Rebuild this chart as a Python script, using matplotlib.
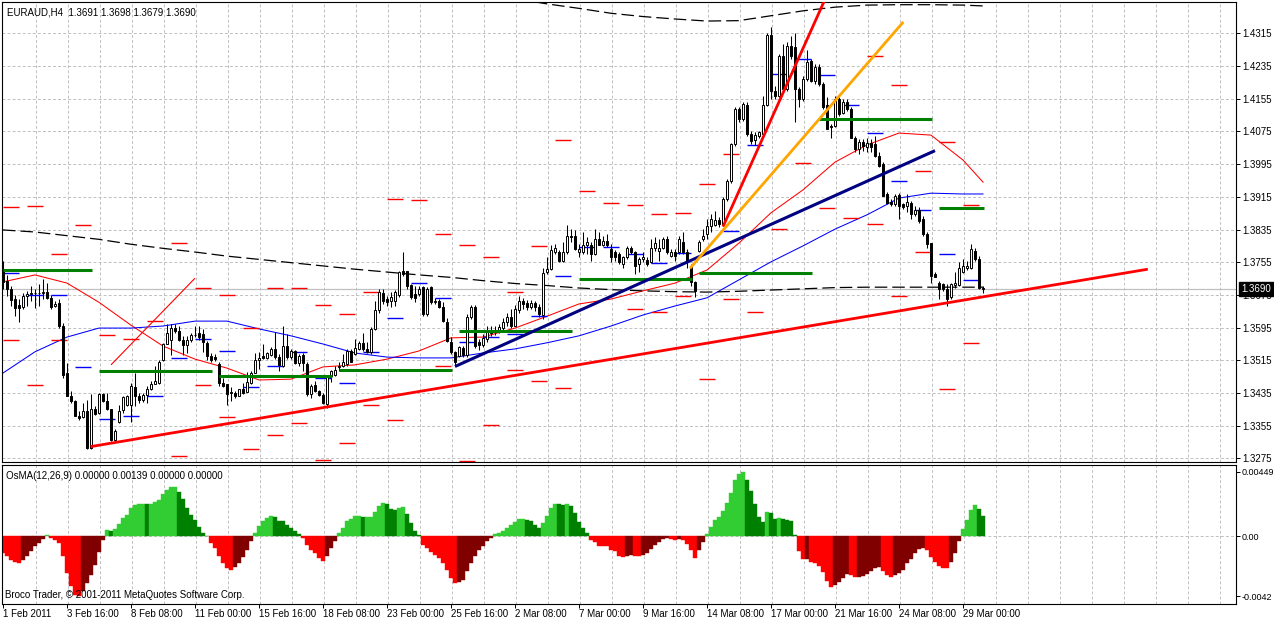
import numpy as np
import matplotlib
matplotlib.use("Agg")
import matplotlib.pyplot as plt
from matplotlib.transforms import blended_transform_factory

plt.rcParams['font.family'] = ['Liberation Sans', 'DejaVu Sans']

symbol = "EURAUD,H4"

# H4 bars, 1 Feb 2011 00:00 .. 29 Mar 2011 20:00 (6 bars a day, no weekend bars)
opens = [
    1.3733, 1.3709, 1.3690, 1.3664, 1.3651, 1.3645, 1.3672, 1.3678, 1.3679, 1.3680,
    1.3680, 1.3682, 1.3668, 1.3649, 1.3656, 1.3599, 1.3483, 1.3429, 1.3415, 1.3380,
    1.3377, 1.3392, 1.3301, 1.3396, 1.3387, 1.3432, 1.3415, 1.3395, 1.3321, 1.3364,
    1.3393, 1.3405, 1.3406, 1.3449, 1.3427, 1.3419, 1.3431, 1.3444, 1.3458, 1.3460,
    1.3515, 1.3556, 1.3566, 1.3593, 1.3588, 1.3565, 1.3552, 1.3564, 1.3576, 1.3581,
    1.3580, 1.3558, 1.3526, 1.3522, 1.3506, 1.3459, 1.3457, 1.3435, 1.3435, 1.3428,
    1.3445, 1.3438, 1.3459, 1.3485, 1.3517, 1.3525, 1.3520, 1.3529, 1.3544, 1.3524,
    1.3502, 1.3551, 1.3522, 1.3539, 1.3508, 1.3528, 1.3505, 1.3433, 1.3455, 1.3439,
    1.3431, 1.3408, 1.3476, 1.3479, 1.3498, 1.3502, 1.3506, 1.3539, 1.3530, 1.3543,
    1.3557, 1.3543, 1.3535, 1.3592, 1.3639, 1.3680, 1.3665, 1.3659, 1.3661, 1.3675,
    1.3733, 1.3733, 1.3699, 1.3677, 1.3677, 1.3694, 1.3628, 1.3694, 1.3657, 1.3661,
    1.3645, 1.3610, 1.3559, 1.3535, 1.3526, 1.3545, 1.3528, 1.3620, 1.3645, 1.3560,
    1.3553, 1.3568, 1.3583, 1.3590, 1.3588, 1.3595, 1.3608, 1.3620, 1.3600, 1.3638,
    1.3660, 1.3655, 1.3645, 1.3655, 1.3645, 1.3625, 1.3730, 1.3739, 1.3780, 1.3780,
    1.3757, 1.3780, 1.3820, 1.3820, 1.3780, 1.3780, 1.3796, 1.3796, 1.3775, 1.3812,
    1.3798, 1.3808, 1.3787, 1.3779, 1.3775, 1.3751, 1.3767, 1.3791, 1.3779, 1.3750,
    1.3764, 1.3761, 1.3755, 1.3789, 1.3783, 1.3789, 1.3812, 1.3771, 1.3781, 1.3779,
    1.3805, 1.3779, 1.3747, 1.3706, 1.3783, 1.3812, 1.3824, 1.3844, 1.3846, 1.3858,
    1.3848, 1.3910, 1.3954, 1.4044, 1.4130, 1.4105, 1.4140, 1.4069, 1.4055, 1.4064,
    1.4069, 1.4140, 1.4311, 1.4175, 1.4162, 1.4260, 1.4179, 1.4285, 1.4281, 1.4179,
    1.4154, 1.4203, 1.4248, 1.4199, 1.4232, 1.4191, 1.4139, 1.4089, 1.4089, 1.4154,
    1.4121, 1.4146, 1.4130, 1.4060, 1.4032, 1.4050, 1.4036, 1.4047, 1.4044, 1.4016,
    1.3995, 1.3922, 1.3903, 1.3897, 1.3920, 1.3897, 1.3893, 1.3901, 1.3873, 1.3883,
    1.3862, 1.3824, 1.3802, 1.3726, 1.3705, 1.3701, 1.3689, 1.3671, 1.3699, 1.3699,
    1.3730, 1.3740, 1.3740, 1.3783, 1.3763, 1.3691]
highs = [
    1.3758, 1.3725, 1.3697, 1.3676, 1.3664, 1.3680, 1.3684, 1.3697, 1.3689, 1.3701,
    1.3713, 1.3705, 1.3676, 1.3660, 1.3666, 1.3607, 1.3509, 1.3440, 1.3419, 1.3391,
    1.3411, 1.3419, 1.3432, 1.3403, 1.3436, 1.3436, 1.3436, 1.3395, 1.3346, 1.3406,
    1.3427, 1.3431, 1.3460, 1.3485, 1.3435, 1.3435, 1.3452, 1.3464, 1.3501, 1.3517,
    1.3558, 1.3603, 1.3605, 1.3603, 1.3599, 1.3574, 1.3574, 1.3582, 1.3599, 1.3599,
    1.3591, 1.3562, 1.3534, 1.3530, 1.3510, 1.3473, 1.3457, 1.3449, 1.3441, 1.3446,
    1.3459, 1.3487, 1.3490, 1.3533, 1.3535, 1.3554, 1.3535, 1.3547, 1.3584, 1.3530,
    1.3598, 1.3579, 1.3543, 1.3541, 1.3530, 1.3534, 1.3510, 1.3457, 1.3465, 1.3442,
    1.3435, 1.3477, 1.3492, 1.3502, 1.3510, 1.3530, 1.3543, 1.3543, 1.3567, 1.3563,
    1.3581, 1.3559, 1.3596, 1.3661, 1.3690, 1.3690, 1.3672, 1.3681, 1.3686, 1.3734,
    1.3781, 1.3734, 1.3702, 1.3698, 1.3698, 1.3698, 1.3695, 1.3698, 1.3667, 1.3665,
    1.3657, 1.3618, 1.3571, 1.3539, 1.3551, 1.3551, 1.3628, 1.3650, 1.3650, 1.3568,
    1.3580, 1.3600, 1.3600, 1.3600, 1.3605, 1.3618, 1.3630, 1.3640, 1.3650, 1.3672,
    1.3668, 1.3662, 1.3662, 1.3660, 1.3652, 1.3740, 1.3767, 1.3796, 1.3800, 1.3784,
    1.3804, 1.3846, 1.3837, 1.3833, 1.3800, 1.3829, 1.3816, 1.3804, 1.3837, 1.3829,
    1.3820, 1.3824, 1.3799, 1.3785, 1.3779, 1.3771, 1.3795, 1.3795, 1.3783, 1.3767,
    1.3779, 1.3767, 1.3812, 1.3816, 1.3812, 1.3816, 1.3820, 1.3787, 1.3787, 1.3820,
    1.3828, 1.3787, 1.3751, 1.3710, 1.3810, 1.3836, 1.3860, 1.3873, 1.3881, 1.3865,
    1.3914, 1.3958, 1.4046, 1.4134, 1.4134, 1.4146, 1.4146, 1.4077, 1.4073, 1.4077,
    1.4162, 1.4316, 1.4330, 1.4187, 1.4264, 1.4289, 1.4293, 1.4309, 1.4316, 1.4183,
    1.4211, 1.4275, 1.4252, 1.4240, 1.4240, 1.4195, 1.4158, 1.4093, 1.4162, 1.4158,
    1.4154, 1.4154, 1.4134, 1.4065, 1.4056, 1.4056, 1.4060, 1.4056, 1.4065, 1.4024,
    1.3999, 1.3926, 1.3910, 1.3922, 1.3924, 1.3901, 1.3922, 1.3905, 1.3893, 1.3889,
    1.3869, 1.3828, 1.3803, 1.3730, 1.3710, 1.3705, 1.3701, 1.3705, 1.3730, 1.3755,
    1.3763, 1.3759, 1.3799, 1.3791, 1.3771, 1.3698]
lows = [
    1.3689, 1.3672, 1.3648, 1.3623, 1.3609, 1.3640, 1.3648, 1.3660, 1.3644, 1.3648,
    1.3666, 1.3664, 1.3640, 1.3646, 1.3595, 1.3471, 1.3427, 1.3411, 1.3378, 1.3370,
    1.3374, 1.3297, 1.3298, 1.3382, 1.3385, 1.3413, 1.3393, 1.3317, 1.3317, 1.3362,
    1.3387, 1.3403, 1.3364, 1.3403, 1.3411, 1.3414, 1.3411, 1.3442, 1.3456, 1.3458,
    1.3513, 1.3554, 1.3529, 1.3582, 1.3562, 1.3529, 1.3532, 1.3561, 1.3573, 1.3566,
    1.3535, 1.3517, 1.3510, 1.3514, 1.3453, 1.3449, 1.3406, 1.3416, 1.3424, 1.3427,
    1.3433, 1.3437, 1.3457, 1.3484, 1.3494, 1.3518, 1.3518, 1.3525, 1.3518, 1.3490,
    1.3498, 1.3518, 1.3518, 1.3506, 1.3502, 1.3490, 1.3429, 1.3422, 1.3437, 1.3428,
    1.3408, 1.3398, 1.3461, 1.3477, 1.3490, 1.3498, 1.3502, 1.3510, 1.3528, 1.3541,
    1.3539, 1.3533, 1.3530, 1.3590, 1.3632, 1.3653, 1.3649, 1.3645, 1.3649, 1.3669,
    1.3722, 1.3690, 1.3665, 1.3657, 1.3672, 1.3624, 1.3624, 1.3653, 1.3653, 1.3642,
    1.3610, 1.3559, 1.3531, 1.3500, 1.3522, 1.3522, 1.3524, 1.3615, 1.3545, 1.3540,
    1.3548, 1.3560, 1.3575, 1.3578, 1.3582, 1.3590, 1.3600, 1.3595, 1.3598, 1.3632,
    1.3640, 1.3638, 1.3640, 1.3635, 1.3620, 1.3615, 1.3727, 1.3735, 1.3775, 1.3755,
    1.3755, 1.3775, 1.3804, 1.3786, 1.3767, 1.3775, 1.3775, 1.3757, 1.3773, 1.3796,
    1.3794, 1.3792, 1.3755, 1.3759, 1.3751, 1.3742, 1.3763, 1.3775, 1.3726, 1.3730,
    1.3755, 1.3746, 1.3753, 1.3783, 1.3759, 1.3787, 1.3775, 1.3767, 1.3759, 1.3775,
    1.3775, 1.3742, 1.3697, 1.3669, 1.3779, 1.3808, 1.3812, 1.3828, 1.3844, 1.3840,
    1.3846, 1.3905, 1.3950, 1.4040, 1.4098, 1.4101, 1.4064, 1.4044, 1.4042, 1.4060,
    1.4066, 1.4136, 1.4154, 1.4154, 1.4158, 1.4175, 1.4175, 1.4252, 1.4097, 1.4134,
    1.4150, 1.4199, 1.4195, 1.4190, 1.4185, 1.4131, 1.4081, 1.4060, 1.4085, 1.4113,
    1.4117, 1.4126, 1.4060, 1.4024, 1.4020, 1.4028, 1.4024, 1.4024, 1.4012, 1.3987,
    1.3916, 1.3897, 1.3893, 1.3893, 1.3860, 1.3885, 1.3877, 1.3860, 1.3869, 1.3852,
    1.3820, 1.3791, 1.3705, 1.3718, 1.3665, 1.3685, 1.3648, 1.3666, 1.3693, 1.3697,
    1.3728, 1.3736, 1.3738, 1.3759, 1.3689, 1.3679]
closes = [
    1.3706, 1.3689, 1.3662, 1.3644, 1.3644, 1.3672, 1.3678, 1.3679, 1.3680, 1.3680,
    1.3683, 1.3668, 1.3646, 1.3654, 1.3599, 1.3480, 1.3429, 1.3415, 1.3378, 1.3374,
    1.3392, 1.3301, 1.3397, 1.3385, 1.3432, 1.3415, 1.3395, 1.3321, 1.3342, 1.3392,
    1.3425, 1.3427, 1.3452, 1.3427, 1.3419, 1.3431, 1.3446, 1.3458, 1.3464, 1.3511,
    1.3556, 1.3581, 1.3593, 1.3587, 1.3565, 1.3552, 1.3565, 1.3578, 1.3578, 1.3573,
    1.3560, 1.3525, 1.3516, 1.3518, 1.3459, 1.3453, 1.3433, 1.3437, 1.3427, 1.3445,
    1.3436, 1.3461, 1.3485, 1.3516, 1.3521, 1.3520, 1.3532, 1.3544, 1.3522, 1.3503,
    1.3551, 1.3522, 1.3539, 1.3508, 1.3526, 1.3508, 1.3433, 1.3453, 1.3439, 1.3431,
    1.3411, 1.3475, 1.3490, 1.3491, 1.3502, 1.3510, 1.3539, 1.3512, 1.3545, 1.3557,
    1.3543, 1.3535, 1.3592, 1.3637, 1.3681, 1.3661, 1.3657, 1.3669, 1.3681, 1.3732,
    1.3726, 1.3698, 1.3669, 1.3667, 1.3690, 1.3628, 1.3690, 1.3657, 1.3661, 1.3645,
    1.3612, 1.3563, 1.3535, 1.3510, 1.3547, 1.3528, 1.3622, 1.3645, 1.3551, 1.3553,
    1.3570, 1.3585, 1.3590, 1.3588, 1.3596, 1.3610, 1.3620, 1.3600, 1.3640, 1.3660,
    1.3652, 1.3645, 1.3655, 1.3645, 1.3628, 1.3728, 1.3739, 1.3784, 1.3789, 1.3759,
    1.3780, 1.3820, 1.3816, 1.3788, 1.3788, 1.3796, 1.3804, 1.3775, 1.3812, 1.3798,
    1.3808, 1.3796, 1.3769, 1.3767, 1.3755, 1.3767, 1.3789, 1.3779, 1.3746, 1.3763,
    1.3767, 1.3750, 1.3791, 1.3803, 1.3789, 1.3812, 1.3779, 1.3779, 1.3771, 1.3812,
    1.3779, 1.3755, 1.3706, 1.3685, 1.3805, 1.3820, 1.3844, 1.3860, 1.3859, 1.3848,
    1.3910, 1.3954, 1.4044, 1.4130, 1.4105, 1.4142, 1.4069, 1.4052, 1.4066, 1.4073,
    1.4140, 1.4311, 1.4175, 1.4162, 1.4260, 1.4179, 1.4285, 1.4260, 1.4179, 1.4154,
    1.4203, 1.4244, 1.4199, 1.4232, 1.4191, 1.4134, 1.4081, 1.4085, 1.4154, 1.4117,
    1.4146, 1.4130, 1.4060, 1.4032, 1.4050, 1.4040, 1.4047, 1.4036, 1.4016, 1.3991,
    1.3918, 1.3901, 1.3897, 1.3918, 1.3893, 1.3889, 1.3903, 1.3873, 1.3883, 1.3856,
    1.3824, 1.3799, 1.3722, 1.3720, 1.3689, 1.3689, 1.3665, 1.3701, 1.3705, 1.3742,
    1.3746, 1.3746, 1.3787, 1.3763, 1.3691, 1.3690]

# OsMA(12,26,9) histogram, one value per bar
osma = [
    -0.00119, -0.00142, -0.00165, -0.00184, -0.00186, -0.00165, -0.00137, -0.00107, -0.00072, -0.00049,
    -0.00021, 0.00007, -0.00014, -0.00026, -0.00049, -0.00142, -0.00259, -0.00352, -0.00410, -0.00420,
    -0.00387, -0.00329, -0.00270, -0.00200, -0.00114, -0.00026, 0.00044, 0.00033, 0.00051, 0.00086,
    0.00126, 0.00149, 0.00196, 0.00214, 0.00224, 0.00226, 0.00225, 0.00227, 0.00235, 0.00254,
    0.00296, 0.00319, 0.00343, 0.00344, 0.00308, 0.00261, 0.00196, 0.00149, 0.00110, 0.00063,
    0.00021, 0.00002, -0.00049, -0.00084, -0.00142, -0.00189, -0.00224, -0.00240, -0.00217, -0.00189,
    -0.00147, -0.00096, -0.00037, 0.00021, 0.00068, 0.00103, 0.00126, 0.00137, 0.00136, 0.00103,
    0.00102, 0.00079, 0.00056, 0.00033, 0.00016, -0.00014, -0.00061, -0.00100, -0.00119, -0.00154,
    -0.00172, -0.00142, -0.00084, -0.00037, 0.00021, 0.00056, 0.00103, 0.00119, 0.00137, 0.00142,
    0.00130, 0.00131, 0.00133, 0.00165, 0.00212, 0.00231, 0.00226, 0.00189, 0.00184, 0.00196,
    0.00200, 0.00156, 0.00091, 0.00033, 0.00009, -0.00061, -0.00084, -0.00114, -0.00135, -0.00154,
    -0.00189, -0.00240, -0.00294, -0.00329, -0.00322, -0.00305, -0.00247, -0.00189, -0.00142, -0.00096,
    -0.00068, -0.00037, -0.00014, 0.00016, 0.00021, 0.00033, 0.00054, 0.00077, 0.00098, 0.00119,
    0.00120, 0.00110, 0.00103, 0.00077, 0.00056, 0.00091, 0.00137, 0.00196, 0.00224, 0.00223,
    0.00214, 0.00224, 0.00212, 0.00161, 0.00098, 0.00056, 0.00021, -0.00026, -0.00042, -0.00068,
    -0.00069, -0.00070, -0.00096, -0.00107, -0.00137, -0.00144, -0.00137, -0.00135, -0.00137, -0.00138,
    -0.00130, -0.00119, -0.00091, -0.00061, -0.00042, -0.00021, -0.00014, -0.00019, -0.00026, -0.00021,
    -0.00026, -0.00054, -0.00100, -0.00154, -0.00096, -0.00044, 0.00014, 0.00063, 0.00110, 0.00133,
    0.00172, 0.00231, 0.00301, 0.00394, 0.00433, 0.00449, 0.00389, 0.00317, 0.00224, 0.00133,
    0.00096, 0.00165, 0.00161, 0.00119, 0.00126, 0.00119, 0.00110, 0.00105, 0.00007, -0.00107,
    -0.00161, -0.00160, -0.00182, -0.00189, -0.00207, -0.00252, -0.00317, -0.00356, -0.00340, -0.00322,
    -0.00294, -0.00266, -0.00270, -0.00287, -0.00286, -0.00277, -0.00263, -0.00242, -0.00221, -0.00217,
    -0.00247, -0.00273, -0.00287, -0.00270, -0.00259, -0.00235, -0.00189, -0.00161, -0.00119, -0.00091,
    -0.00084, -0.00100, -0.00147, -0.00184, -0.00212, -0.00224, -0.00225, -0.00182, -0.00119, -0.00033,
    0.00049, 0.00112, 0.00182, 0.00215, 0.00190, 0.00139]

# moving averages read every 8 bars
ma_bars = [0, 8, 16, 24, 32, 40, 48, 56, 64, 72, 80, 88, 96, 104, 112, 120,
           128, 136, 144, 152, 160, 168, 176, 184, 192, 200, 208, 216, 224, 232, 240, 245]
ma_red = [1.3707, 1.3724, 1.3704, 1.3657, 1.3601, 1.3550, 1.3518, 1.3496, 1.3467, 1.3469,
          1.3499, 1.3504, 1.3518, 1.3538, 1.3570, 1.3572, 1.3594, 1.3623, 1.3653, 1.3665,
          1.3685, 1.3704, 1.3736, 1.3802, 1.3876, 1.3932, 1.4000, 1.4042, 1.4071, 1.4066,
          1.4005, 1.3951]
ma_blue = [1.3484, 1.3536, 1.3572, 1.3594, 1.3594, 1.3599, 1.3611, 1.3611, 1.3592, 1.3575,
           1.3555, 1.3533, 1.3523, 1.3521, 1.3521, 1.3533, 1.3543, 1.3558, 1.3575, 1.3599,
           1.3626, 1.3648, 1.3668, 1.3712, 1.3756, 1.3795, 1.3836, 1.3871, 1.3912, 1.3924,
           1.3922, 1.3922]
band_low = [1.3834, 1.3829, 1.3820, 1.3811, 1.3799, 1.3789, 1.3780, 1.3770, 1.3762, 1.3754,
            1.3746, 1.3738, 1.3731, 1.3724, 1.3718, 1.3710, 1.3703, 1.3698, 1.3692, 1.3688,
            1.3685, 1.3683, 1.3682, 1.3684, 1.3687, 1.3690, 1.3693, 1.3694, 1.3694, 1.3694,
            1.3694, 1.3694]
band_high = [1.4400, 1.4387, 1.4376, 1.4364, 1.4356, 1.4350, 1.4345, 1.4346, 1.4358, 1.4370,
             1.4379, 1.4384, 1.4385, 1.4385, 1.4384, 1.4382]   # from bar 128

# daily levels (one per day, nan = off chart)
nan = np.nan
day_upper = [1.3891, 1.3893, 1.3774, 1.3845, 1.3576, 1.3567, 1.3612, 1.3803, 1.3691, 1.3674,
             1.3595, 1.3691, 1.3691, 1.3650, 1.3628, 1.3683, 1.3909, 1.3907, 1.3823, 1.3796,
             1.3767, 1.3681, 1.3794, 1.4053, 1.3929, 1.3901, 1.3894, 1.3872, 1.3875, 1.3946,
             1.4019, nan, nan, nan, nan, nan, 1.4259, 1.4188, 1.3978, 1.4048, 1.3894]
day_lower = [1.3564, 1.3454, 1.3564, nan, nan, nan, nan, 1.3280, 1.3454, 1.3376,
             1.3298, 1.3332, 1.3361, 1.3271, 1.3312, 1.3405, 1.3368, nan, 1.3501, 1.3270,
             1.3356, 1.3491, 1.3465, 1.3447, nan, nan, 1.3640, 1.3634, 1.3672, 1.3469,
             1.3664, 1.3633, 1.3836, 1.3997, 1.3887, 1.3863, 1.3848, 1.3672, 1.3779, 1.3444,
             1.3557]
day_pivot = [1.3728, 1.3676, 1.3674, 1.3498, 1.3371, 1.3378, 1.3427, 1.3520, 1.3567, 1.3537,
             1.3451, 1.3500, 1.3535, 1.3472, 1.3459, 1.3535, 1.3618, 1.3704, 1.3668, 1.3559,
             1.3571, 1.3579, 1.3624, 1.3721, 1.3793, 1.3793, 1.3774, 1.3752, 1.3777, nan,
             1.3831, 1.4041, 1.4215, 1.4251, 1.4213, 1.4139, 1.4070, 1.3953, 1.3882, 1.3774,
             1.3711]

# weekly levels: first bar of each week and level
week_start = [0, 24, 54, 84, 114, 144, 174, 204, 234]
week_level = [1.3735, 1.3489, 1.3477, 1.3491, 1.3587, 1.3713, 1.3728, 1.4105, 1.3887]

# trend lines (bar, price) -> (bar, price)
trend_x0 = [21.9, 27, 113, 180, 171.75]
trend_p0 = [1.3304, 1.3504, 1.3500, 1.3842, 1.3740]
trend_x1 = [286.2, 48, 233, 205.5, 225.1]
trend_p1 = [1.3738, 1.3716, 1.4028, 1.4398, 1.4343]
trend_color = ['#FF0000', '#FF0000', '#000080', '#FF0000', '#FFA500']
trend_width = [2.0, 0.8, 2.2, 2.0, 2.0]

price_levels = [1.3275, 1.3355, 1.3435, 1.3515, 1.3595, 1.3675, 1.3755, 1.3835,
                1.3915, 1.3995, 1.4075, 1.4155, 1.4235, 1.4315]
date_labels = ['1 Feb 2011', '3 Feb 16:00', '8 Feb 08:00', '11 Feb 00:00', '15 Feb 16:00',
               '18 Feb 08:00', '23 Feb 00:00', '25 Feb 16:00', '2 Mar 08:00', '7 Mar 00:00',
               '9 Mar 16:00', '14 Mar 08:00', '17 Mar 00:00', '21 Mar 16:00', '24 Mar 08:00',
               '29 Mar 00:00']

W, H = 1274, 620
fig = plt.figure(figsize=(W / 100, H / 100), dpi=100)
ax1 = fig.add_axes([2 / W, 1 - 461.5 / H, 1234 / W, 459.5 / H])
ax2 = fig.add_axes([2 / W, 1 - 604 / H, 1234 / W, 139.5 / H])

grid_kw = dict(color='#C0C0C0', lw=0.7, ls=(0, (3, 2.2)), zorder=0)
for ax in (ax1, ax2):
    ax.set_xlim(-0.25, 308.25)
    for k in range(1, 39):
        ax.axvline(8 * k + 0.2, **grid_kw)
    for s in ax.spines.values():
        s.set_color('black')
        s.set_linewidth(0.8)
for lvl in price_levels:
    ax1.axhline(lvl, **grid_kw)
ax2.axhline(0, **grid_kw)

ax1.set_ylim(1.32676, 1.43916)
ax1.axhline(closes[-1], color='#C0C0C0', lw=0.9, zorder=0.5)

# indicator lines
ax1.plot(ma_bars, ma_red, color='#FF0000', lw=0.75, zorder=2)
ax1.plot(ma_bars, ma_blue, color='#0000FF', lw=0.75, zorder=2)
ax1.plot(ma_bars, band_low, color='black', lw=0.9, dashes=(10, 4), zorder=2)
ax1.plot(ma_bars[16:], band_high, color='black', lw=0.9, dashes=(10, 4), zorder=2)

days = np.arange(len(day_upper))
for vals, col in ((day_upper, '#FF0000'), (day_lower, '#FF0000'), (day_pivot, '#0000FF')):
    v = np.array(vals)
    ok = np.isfinite(v)
    ax1.hlines(v[ok], 6 * days[ok] - 0.1, 6 * days[ok] + 4.0, colors=col, lw=1.0, zorder=2)

# candles
x = np.arange(len(closes))
o, h, l, c = (np.array(a) for a in (opens, highs, lows, closes))
up = c >= o
ax1.vlines(x, l, h, color='black', lw=0.75, zorder=3)
ax1.bar(x, np.maximum(np.abs(c - o), 0.00003), bottom=np.minimum(o, c), width=0.5,
        color=np.where(up, 'white', 'black'), edgecolor='black', linewidth=0.7, zorder=3.5)

week_end = [s - 1.75 for s in week_start[1:]] + [len(closes) - 0.75]
ax1.hlines(week_level, week_start, week_end, colors='#008000', lw=2.2, zorder=5)

for i in range(len(trend_x0)):
    ax1.plot([trend_x0[i], trend_x1[i]], [trend_p0[i], trend_p1[i]],
             color=trend_color[i], lw=trend_width[i], zorder=5, solid_capstyle='butt')

ax1.set_xticks([])
ax1.yaxis.tick_right()
ax1.set_yticks(price_levels)
ax1.set_yticklabels([f'{p:.4f}' for p in price_levels])
ax1.tick_params(axis='y', length=3, width=0.7, labelsize=7, pad=1.2)

tr = blended_transform_factory(ax1.transAxes, ax1.transData)
ax1.text(1 + 5 / 1234, closes[-1], f'{closes[-1]:.4f}', transform=tr, ha='left', va='center',
         fontsize=7, color='white', clip_on=False, zorder=10,
         bbox=dict(boxstyle='square,pad=0.2', facecolor='black', edgecolor='black'))

ax1.text(5 / 1234, 0.978, f'{symbol}  {opens[-1]:.4f} {highs[-1]:.4f} {lows[-1]:.4f} {closes[-1]:.4f}',
         transform=ax1.transAxes, fontsize=7, ha='left', va='center')

# OsMA pane
v = np.array(osma)
prev = np.r_[v[0], v[:-1]]
cols = np.where(v >= 0, np.where(v >= prev, '#32CD32', '#008000'),
                np.where(v <= prev, '#FF0000', '#800000'))
ax2.bar(x, v, width=1.0, color=cols, edgecolor=cols, linewidth=0.3, zorder=2)
ax2.set_ylim(-0.00475, 0.0050)
ax2.yaxis.tick_right()
ax2.set_yticks([v.max(), 0, v.min()])
ax2.set_yticklabels([f'{v.max():.5f}', '0.00', f'{v.min():.4f}'])
ax2.tick_params(axis='y', length=3, width=0.7, labelsize=6.5, pad=1.2)
ax2.set_xticks(np.arange(len(date_labels)) * 16)
ax2.set_xticklabels(date_labels, ha='left')
ax2.tick_params(axis='x', length=3, width=0.7, labelsize=7, pad=0.5)

ax2.text(4 / 1234, 0.92, f'OsMA(12,26,9) 0.00000 {osma[-1]:.5f} 0.00000 0.00000',
         transform=ax2.transAxes, fontsize=7, ha='left', va='center')
ax2.text(3 / 1234, 0.065, 'Broco Trader, \u00a9 2001-2011 MetaQuotes Software Corp.',
         transform=ax2.transAxes, fontsize=7, ha='left', va='center')

fig.savefig('out.png', dpi=100)
